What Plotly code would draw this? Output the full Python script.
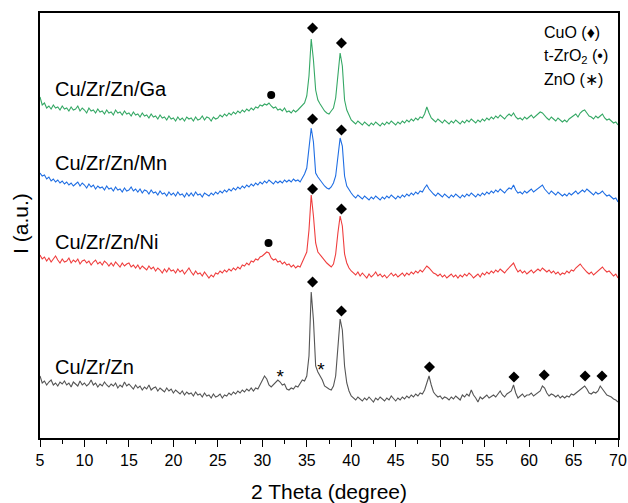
import numpy as np
import plotly.graph_objects as go

# 2-theta sampling grid (degrees)
two_theta = np.arange(5, 70.001, 0.25)

# intensities (arbitrary units, offset-stacked), 4 values per degree
cu_zr_zn = [
    62, 55, 57, 53,  56, 58, 53, 55,  52, 56, 54, 57,  53, 55, 51, 56,  54, 52, 57, 53,
    55, 52, 54, 58,  53, 55, 51, 54,  52, 56, 53, 51,  54, 52, 55, 50,  53, 51, 56, 52,
    54, 51, 49, 53,  50, 52, 48, 51,  49, 53, 48, 50,  51, 47, 50, 48,  46, 50, 47, 49,
    45, 48, 46, 44,  47, 43, 46, 44,  45, 42, 46, 43,  44, 41, 45, 42,  43, 40, 44, 41,
    42, 44, 40, 43,  42, 45, 43, 46,  44, 47, 45, 48,  46, 49, 47, 50,  47, 50, 49, 53,
    58, 62, 59, 53,  51, 53, 56, 58,  56, 53, 54, 49,  48, 50, 49, 52,  51, 54, 58, 57,
    62, 82, 146, 118,  72, 66, 62, 58,  52, 50, 49, 48,  52, 62, 88, 119,  108, 72, 55, 47,
    42, 40, 38, 41,  39, 37, 40, 38,  41, 38, 36, 40,  38, 41, 39, 37,  40, 38, 42, 39,
    37, 40, 38, 41,  39, 42, 40, 43,  41, 44, 42, 45,  44, 48, 55, 62,  53, 46, 43, 41,
    42, 39, 41, 40,  38, 41, 39, 42,  40, 38, 43, 41,  44, 42, 48, 43,  40, 36, 41, 39,
    41, 43, 40, 42,  43, 41, 44, 47,  43, 41, 44, 46,  47, 53, 45, 40,  42, 44, 41, 43,
    43, 45, 42, 44,  45, 47, 52, 50,  45, 42, 44, 43,  41, 43, 40, 42,  40, 42, 41, 44,
    43, 45, 47, 48,  50, 52, 49, 45,  44, 46, 45, 47,  52, 49, 45, 43,  42, 41, 39, 38,
    36,
]
cu_zr_zn_ni = [
    183, 179, 181, 177,  180, 176, 179, 182,  178, 175, 179, 176,  177, 180, 175, 178,  176, 179, 174, 177,
    178, 175, 177, 173,  176, 178, 174, 176,  173, 177, 175, 172,  175, 172, 176, 173,  171, 175, 172, 174,
    175, 171, 173, 170,  173, 169, 172, 170,  168, 172, 169, 171,  167, 170, 168, 165,  169, 166, 170, 167,
    168, 165, 169, 166,  168, 164, 167, 170,  166, 163, 167, 164,  165, 162, 166, 163,  160, 163, 161, 165,
    164, 167, 165, 168,  166, 169, 167, 170,  168, 171, 169, 173,  172, 175, 173, 177,  176, 179, 178, 181,
    182, 184, 186, 185,  180, 178, 179, 176,  177, 174, 176, 173,  174, 171, 173, 170,  172, 171, 176, 180,
    186, 208, 243, 222,  195, 186, 183, 180,  177, 175, 173, 171,  174, 184, 205, 222,  212, 184, 175, 170,
    167, 165, 163, 166,  162, 165, 163, 160,  164, 161, 163, 166,  162, 164, 161, 163,  160, 163, 165, 162,
    164, 161, 163, 165,  162, 165, 163, 166,  164, 167, 165, 168,  166, 169, 172, 170,  167, 165, 164, 162,
    164, 161, 163, 160,  162, 164, 161, 163,  160, 163, 161, 164,  162, 165, 163, 160,  162, 164, 161, 165,
    163, 166, 164, 167,  165, 168, 166, 169,  167, 165, 168, 170,  172, 175, 170, 166,  168, 165, 167, 164,
    166, 168, 165, 167,  169, 167, 170, 168,  166, 168, 165, 167,  164, 166, 163, 165,  164, 167, 165, 168,
    167, 170, 172, 174,  171, 168, 166, 164,  166, 163, 165, 167,  169, 171, 168, 166,  167, 165, 162, 164,
    160,
]
cu_zr_zn_mn = [
    265, 262, 263, 259,  261, 257, 259, 256,  258, 255, 257, 254,  256, 253, 255, 252,  254, 256, 252, 255,
    253, 250, 254, 251,  253, 249, 252, 250,  251, 248, 252, 249,  250, 247, 251, 248,  249, 246, 250, 247,
    248, 251, 247, 249,  246, 249, 245, 248,  247, 244, 248, 245,  246, 243, 247, 244,  245, 242, 246, 243,
    245, 242, 246, 243,  244, 241, 245, 242,  245, 242, 246, 243,  244, 241, 245, 243,  242, 245, 243, 246,
    244, 247, 245, 248,  246, 249, 247, 250,  248, 251, 249, 252,  250, 253, 251, 254,  252, 255, 253, 256,
    254, 257, 255, 258,  256, 254, 257, 255,  257, 255, 258, 256,  258, 256, 259, 257,  258, 256, 260, 264,
    270, 288, 310, 296,  265, 261, 258, 254,  252, 250, 249, 251,  255, 262, 280, 300,  292, 262, 252, 248,
    245, 242, 240, 243,  241, 239, 242, 240,  238, 241, 239, 242,  240, 238, 241, 239,  242, 240, 243, 241,
    239, 242, 240, 243,  241, 244, 242, 245,  243, 246, 244, 247,  246, 250, 253, 249,  246, 244, 242, 245,
    243, 241, 244, 242,  240, 243, 241, 244,  242, 240, 243, 241,  244, 242, 245, 243,  241, 244, 242, 245,
    243, 246, 244, 247,  245, 248, 246, 249,  247, 245, 248, 250,  249, 253, 248, 245,  246, 244, 247, 245,
    247, 249, 246, 248,  250, 252, 253, 249,  246, 244, 247, 245,  243, 246, 244, 242,  244, 242, 245, 243,
    245, 247, 244, 246,  248, 246, 249, 247,  245, 243, 246, 244,  245, 247, 244, 242,  243, 241, 239, 240,
    236,
]
cu_zr_zn_ga = [
    341, 333, 335, 330,  332, 329, 333, 330,  331, 328, 332, 329,  330, 327, 331, 328,  329, 332, 327, 330,
    328, 325, 330, 327,  328, 325, 329, 326,  327, 324, 328, 325,  326, 323, 328, 325,  326, 323, 327, 324,
    325, 322, 326, 323,  324, 321, 325, 322,  323, 320, 324, 321,  322, 319, 323, 320,  321, 318, 322, 319,
    320, 317, 321, 318,  320, 317, 321, 319,  320, 317, 321, 318,  319, 322, 318, 321,  320, 317, 321, 319,
    320, 323, 321, 324,  322, 325, 323, 326,  324, 327, 325, 328,  326, 329, 327, 330,  328, 331, 330, 333,
    332, 334, 333, 335,  332, 330, 331, 328,  329, 327, 330, 326,  327, 325, 328, 326,  328, 330, 332, 335,
    342, 362, 399, 378,  348, 338, 334, 330,  327, 325, 324, 327,  330, 340, 362, 385,  372, 338, 328, 322,
    318, 316, 314, 317,  315, 313, 316, 314,  312, 315, 313, 316,  314, 312, 315, 313,  316, 314, 317, 315,
    313, 316, 314, 317,  315, 318, 316, 319,  317, 320, 318, 321,  320, 324, 331, 325,  320, 318, 316, 319,
    317, 315, 318, 316,  314, 317, 315, 318,  316, 314, 317, 315,  318, 316, 319, 317,  315, 318, 316, 319,
    317, 320, 318, 321,  319, 322, 320, 323,  321, 319, 322, 324,  322, 325, 321, 319,  320, 318, 321, 319,
    321, 323, 320, 322,  324, 326, 325, 322,  320, 318, 321, 319,  317, 320, 318, 316,  318, 316, 319, 321,
    322, 324, 321, 325,  327, 328, 325, 322,  321, 319, 322, 320,  322, 324, 320, 318,  319, 317, 315, 316,
    313,
]

# phase markers
cuo_x = [35.65, 38.9, 35.65, 38.9, 35.65, 38.9, 35.65, 38.9, 48.8, 58.3, 61.7, 66.3, 68.2]
cuo_y = [410, 395, 319, 308, 249, 229, 156, 127, 71, 61, 63, 62, 62]
zro2_x = [31.0, 30.7]
zro2_y = [343, 195]
zno_x = [32.0, 36.6]
zno_y = [60, 67]

sample_names = ["Cu/Zr/Zn/Ga", "Cu/Zr/Zn/Mn", "Cu/Zr/Zn/Ni", "Cu/Zr/Zn"]
name_y = [349, 275, 196, 71]
tick_vals = list(range(5, 71, 5))
tick_labels = [str(v) for v in tick_vals]

FONT = "Liberation Sans, Arial, sans-serif"

fig = go.Figure()
series = [
    (cu_zr_zn_ga, "#35a865"),
    (cu_zr_zn_mn, "#1f6ee3"),
    (cu_zr_zn_ni, "#ef3e3e"),
    (cu_zr_zn, "#555555"),
]
for (vals, col), nm in zip(series, sample_names):
    fig.add_trace(go.Scatter(x=two_theta, y=vals, mode="lines", name=nm,
                             line=dict(color=col, width=1.1), showlegend=False))

fig.add_trace(go.Scatter(x=cuo_x, y=cuo_y, mode="markers", showlegend=False,
                         marker=dict(symbol="diamond", size=8.5, color="black")))
fig.add_trace(go.Scatter(x=zro2_x, y=zro2_y, mode="markers", showlegend=False,
                         marker=dict(symbol="circle", size=8, color="black")))
fig.add_trace(go.Scatter(x=zno_x, y=zno_y, mode="text", text=["*", "*"], showlegend=False,
                         textposition="middle center",
                         textfont=dict(family=FONT, size=19, color="black")))

for nm, yy in zip(sample_names, name_y):
    fig.add_annotation(x=6.45, y=yy, text=nm, showarrow=False, xanchor="left",
                       yanchor="middle", font=dict(family=FONT, size=20, color="black"))

legend_lines = ["CuO (♦)", "t-ZrO<sub>2</sub> (•)", "ZnO (∗)"]
legend_y = [406, 382, 359]
for t, yy in zip(legend_lines, legend_y):
    fig.add_annotation(x=61.4, y=yy, text=t, showarrow=False, xanchor="left",
                       yanchor="middle", font=dict(family=FONT, size=16, color="black"))

fig.add_annotation(xref="paper", yref="paper", x=-0.033, y=0.506, text="I (a.u.)",
                   textangle=-90, showarrow=False, xanchor="center", yanchor="middle",
                   font=dict(family=FONT, size=21, color="black"))
fig.add_annotation(xref="paper", yref="paper", x=0.5, y=-0.127, text="2 Theta (degree)",
                   showarrow=False, xanchor="center", yanchor="middle",
                   font=dict(family=FONT, size=21, color="black"))

fig.update_layout(
    width=628, height=503,
    margin=dict(l=40, r=10, t=13, b=65, autoexpand=False),
    paper_bgcolor="white", plot_bgcolor="white",
    font=dict(family=FONT, color="black"),
    xaxis=dict(range=[5, 70], tickvals=tick_vals, ticktext=tick_labels, automargin=False,
               ticks="outside", ticklen=7, tickwidth=1.3, tickcolor="black",
               minor=dict(dtick=2.5, tick0=5, ticks="outside", ticklen=4, tickwidth=1.2, tickcolor="black"),
               showline=True, linecolor="black", linewidth=1.5, mirror=True,
               showgrid=False, zeroline=False,
               tickfont=dict(family=FONT, size=16)),
    yaxis=dict(range=[0, 425], showticklabels=False, ticks="", automargin=False,
               showline=True, linecolor="black", linewidth=1.5, mirror=True,
               showgrid=False, zeroline=False),
)

fig.write_html("out.html")
